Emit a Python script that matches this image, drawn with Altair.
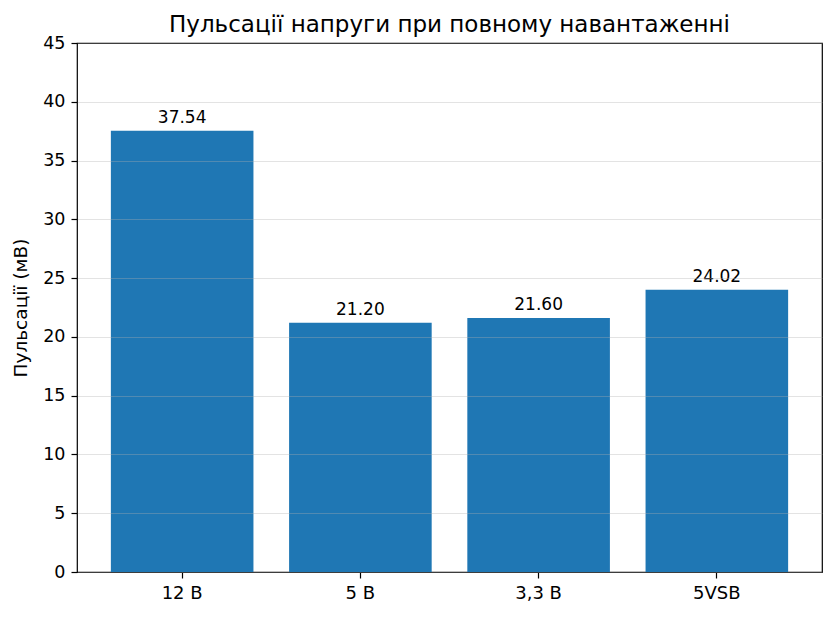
import altair as alt
import pandas as pd

categories = ["12 В", "5 В", "3,3 В", "5VSB"]
values = [37.54, 21.20, 21.60, 24.02]

df = pd.DataFrame({"cat": categories, "val": values})

font = "DejaVu Sans"

x = alt.X(
    "cat:N",
    sort=categories,
    scale=alt.Scale(paddingInner=0.2, paddingOuter=0.19),
    axis=alt.Axis(title=None, labelAngle=0, labelFontSize=18, labelFont=font,
                  labelColor="black", tickColor="black", tickSize=6, tickWidth=1.2,
                  labelPadding=6, domain=False, grid=False),
)
y = alt.Y(
    "val:Q",
    scale=alt.Scale(domain=[0, 45], nice=False),
    axis=alt.Axis(title="Пульсації (мВ)", titleFont=font, titleFontSize=18.5,
                  titleFontWeight="normal", titleColor="black", titlePadding=12,
                  values=list(range(0, 50, 5)), labelFontSize=17.5, labelFont=font,
                  labelColor="black", tickColor="black", tickSize=6, tickWidth=1.2,
                  labelPadding=6, domain=False, grid=True, gridColor="#b0b0b0",
                  gridOpacity=0.35, gridWidth=1.2, zindex=1),
)

bars = alt.Chart(df).mark_bar(color="#1f77b4").encode(x=x, y=y)
labels = alt.Chart(df).mark_text(
    baseline="bottom", dy=-4, fontSize=17, font=font, color="black"
).encode(x=alt.X("cat:N", sort=categories), y="val:Q", text=alt.Text("val:Q", format=".2f"))

chart = (
    alt.layer(bars, labels)
    .properties(
        width=745,
        height=529,
        background="white",
        title=alt.TitleParams("Пульсації напруги при повному навантаженні", font=font,
                              fontSize=23, fontWeight="normal", color="black",
                              anchor="middle", offset=0, dy=3),
        autosize=alt.AutoSizeParams(type="none"),
        padding={"left": 69, "top": 35, "right": 5, "bottom": 30},
    )
    .configure_view(stroke="black", strokeWidth=1.2)
)

chart.save("out.html", embed_options={"renderer": "svg", "actions": False})
